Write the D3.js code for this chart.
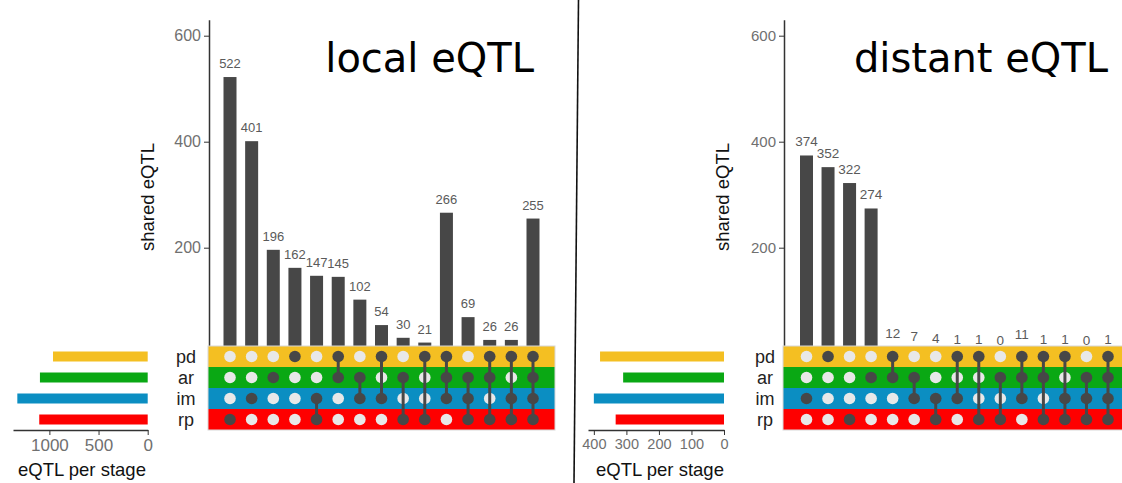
<!DOCTYPE html>
<html>
<head>
<meta charset="utf-8">
<script src="https://cdn.jsdelivr.net/npm/d3@7"></script>
<style>
  body { margin: 0; background: #fff; }
  svg { display: block; font-family: "Liberation Sans", Arial, sans-serif; }
</style>
</head>
<body>
<div id="chart"></div>
<script>
// stages (matrix rows, top to bottom)
const sets = ["pd", "ar", "im", "rp"];
const setColors = ["#f4bf22", "#0aa814", "#0b8ec2", "#fe0000"];

// local eQTL
const localCounts = [522, 401, 196, 162, 147, 145, 102, 54, 30, 21, 266, 69, 26, 26, 255];
const localCombos = [
    ["rp"], ["im"], ["ar"], ["pd"],
    ["im", "rp"], ["pd", "ar"], ["ar", "im"], ["pd", "im"], ["ar", "rp"], ["pd", "rp"],
    ["pd", "ar", "im"], ["ar", "im", "rp"], ["pd", "ar", "rp"], ["pd", "im", "rp"],
    ["pd", "ar", "im", "rp"]
];
const localSetSizes = [963, 1096, 1326, 1103];
const localSizeTicks = [0, 500, 1000];

// distant eQTL
const distantCounts = [374, 352, 322, 274, 12, 7, 4, 1, 1, 0, 11, 1, 1, 0, 1];
const distantCombos = [
    ["im"], ["pd"], ["rp"], ["ar"],
    ["pd", "ar"], ["ar", "im"], ["im", "rp"], ["pd", "im"], ["pd", "rp"], ["ar", "rp"],
    ["pd", "ar", "im"], ["pd", "ar", "rp"], ["pd", "im", "rp"], ["ar", "im", "rp"],
    ["pd", "ar", "im", "rp"]
];
const distantSetSizes = [381, 310, 400, 333];
const distantSizeTicks = [0, 100, 200, 300, 400];

const yTicks = [200, 400, 600];

const width = 1122, height = 483;
const svg = d3.select("#chart").append("svg")
    .attr("width", width)
    .attr("height", height)
    .attr("viewBox", [0, 0, width, height]);

// shared layout for the matrix rows
const matTop = 346, rowH = 21;
const row = d3.scaleBand().domain(sets).range([matTop, matTop + rowH * sets.length]);

function drawPanel(o) {
    const g = svg.append("g");

    // intersection bars
    const y = d3.scaleLinear().domain([0, 630]).range([353.7, 19.8]);
    const x = d3.scalePoint().domain(d3.range(o.counts.length)).range([o.firstCol, o.lastCol]);
    const barW = 13;

    g.append("g")
        .attr("transform", `translate(${o.axisX},0)`)
        .call(d3.axisLeft(y).tickValues(yTicks).tickSize(5).tickSizeOuter(0).tickPadding(3))
        .call(a => a.select(".domain").attr("stroke", "#333").attr("stroke-width", 1.5))
        .call(a => a.selectAll(".tick line").attr("stroke", "#333"))
        .call(a => a.selectAll(".tick text")
            .attr("fill", "#707070").attr("font-size", o.yTickFont).attr("font-family", "Liberation Sans, Arial"));

    g.append("text")
        .attr("transform", `translate(${o.axisX - 55},197) rotate(-90)`)
        .attr("text-anchor", "middle")
        .attr("font-size", 18.5)
        .attr("fill", "#111")
        .text("shared eQTL");

    g.append("g").selectAll("rect")
        .data(o.counts)
        .join("rect")
        .attr("x", (d, i) => x(i) - barW / 2)
        .attr("y", d => y(d))
        .attr("width", barW)
        .attr("height", d => y(0) - y(d))
        .attr("fill", "#474747");

    g.append("g").selectAll("text")
        .data(o.counts)
        .join("text")
        .attr("x", (d, i) => x(i))
        .attr("y", d => y(d) - 9)
        .attr("text-anchor", "middle")
        .attr("font-size", o.barFont)
        .attr("fill", "#5a5a5a")
        .text(d => d);

    // matrix
    g.append("g").selectAll("rect")
        .data(sets)
        .join("rect")
        .attr("x", o.matLeft)
        .attr("y", d => row(d))
        .attr("width", o.matRight - o.matLeft)
        .attr("height", row.bandwidth())
        .attr("fill", (d, i) => setColors[i]);

    g.append("rect")
        .attr("x", o.matLeft).attr("y", matTop)
        .attr("width", o.matRight - o.matLeft).attr("height", rowH * sets.length)
        .attr("fill", "none").attr("stroke", "#d8d8d8").attr("stroke-width", 1);

    const cy = s => row(s) + row.bandwidth() / 2;

    const cells = o.combos.flatMap((combo, i) =>
        sets.map(s => ({ i, s, on: combo.includes(s) })));

    // light dots under the connectors, dark dots on top
    g.append("g").selectAll("circle")
        .data(cells.filter(c => !c.on))
        .join("circle")
        .attr("cx", c => x(c.i)).attr("cy", c => cy(c.s)).attr("r", 5.8)
        .attr("fill", "#e8e8e8");

    g.append("g").selectAll("line")
        .data(o.combos.map((combo, i) => ({ i, ys: combo.map(cy) })).filter(d => d.ys.length > 1))
        .join("line")
        .attr("x1", d => x(d.i)).attr("x2", d => x(d.i))
        .attr("y1", d => d3.min(d.ys)).attr("y2", d => d3.max(d.ys))
        .attr("stroke", "#474747").attr("stroke-width", 3);

    g.append("g").selectAll("circle")
        .data(cells.filter(c => c.on))
        .join("circle")
        .attr("cx", c => x(c.i)).attr("cy", c => cy(c.s)).attr("r", 5.8)
        .attr("fill", "#474747");

    // row labels
    g.append("g").selectAll("text")
        .data(sets)
        .join("text")
        .attr("x", o.labelX)
        .attr("y", d => cy(d) + 6)
        .attr("text-anchor", "middle")
        .attr("font-size", 18)
        .attr("fill", "#222")
        .text(d => d);

    // set sizes
    const xs = d3.scaleLinear().domain(o.sizeDomain).range([o.sizeZero, o.sizeEnd]);
    const sizeBarH = 10;

    g.append("g").selectAll("rect")
        .data(o.sizes)
        .join("rect")
        .attr("x", d => xs(d))
        .attr("y", (d, i) => cy(sets[i]) - sizeBarH / 2)
        .attr("width", d => xs(0) - xs(d))
        .attr("height", sizeBarH)
        .attr("fill", (d, i) => setColors[i]);

    g.append("g")
        .attr("transform", `translate(0,${matTop + rowH * sets.length})`)
        .call(d3.axisBottom(xs).tickValues(o.sizeTicks).tickFormat(d3.format("d"))
            .tickSize(5).tickSizeOuter(0).tickPadding(4))
        .call(a => a.select(".domain").attr("stroke", "#333").attr("stroke-width", 1.5))
        .call(a => a.selectAll(".tick line").attr("stroke", "#333"))
        .call(a => a.selectAll(".tick text")
            .attr("fill", "#707070").attr("font-size", o.sizeTickFont).attr("font-family", "Liberation Sans, Arial"));

    g.append("text")
        .attr("x", o.sizeTitleX)
        .attr("y", 476)
        .attr("text-anchor", "middle")
        .attr("font-size", 18.5)
        .attr("fill", "#111")
        .text("eQTL per stage");

    // panel title
    g.append("text")
        .attr("x", o.titleX)
        .attr("y", 72)
        .attr("text-anchor", "end")
        .attr("font-family", "DejaVu Sans, Verdana, sans-serif")
        .attr("font-size", 40)
        .attr("fill", "#000")
        .text(o.title);
}

drawPanel({
    title: "local eQTL", titleX: 534,
    counts: localCounts, combos: localCombos, sizes: localSetSizes, sizeTicks: localSizeTicks,
    axisX: 209, firstCol: 230, lastCol: 533, matLeft: 208, matRight: 555,
    labelX: 186,
    sizeDomain: [0, 1370], sizeZero: 147.7, sizeEnd: 13,
    sizeTitleX: 82, yTickFont: 16, barFont: 13, sizeTickFont: 17
});

drawPanel({
    title: "distant eQTL", titleX: 1108,
    counts: distantCounts, combos: distantCombos, sizes: distantSetSizes, sizeTicks: distantSizeTicks,
    axisX: 784, firstCol: 806.5, lastCol: 1108, matLeft: 783, matRight: 1124,
    labelX: 765,
    sizeDomain: [0, 418], sizeZero: 724, sizeEnd: 588,
    sizeTitleX: 660, yTickFont: 15, barFont: 13.5, sizeTickFont: 14.5
});

// divider between the two panels
svg.append("line")
    .attr("x1", 578.5).attr("y1", 0)
    .attr("x2", 574).attr("y2", height)
    .attr("stroke", "#111").attr("stroke-width", 1.6);
</script>
</body>
</html>
